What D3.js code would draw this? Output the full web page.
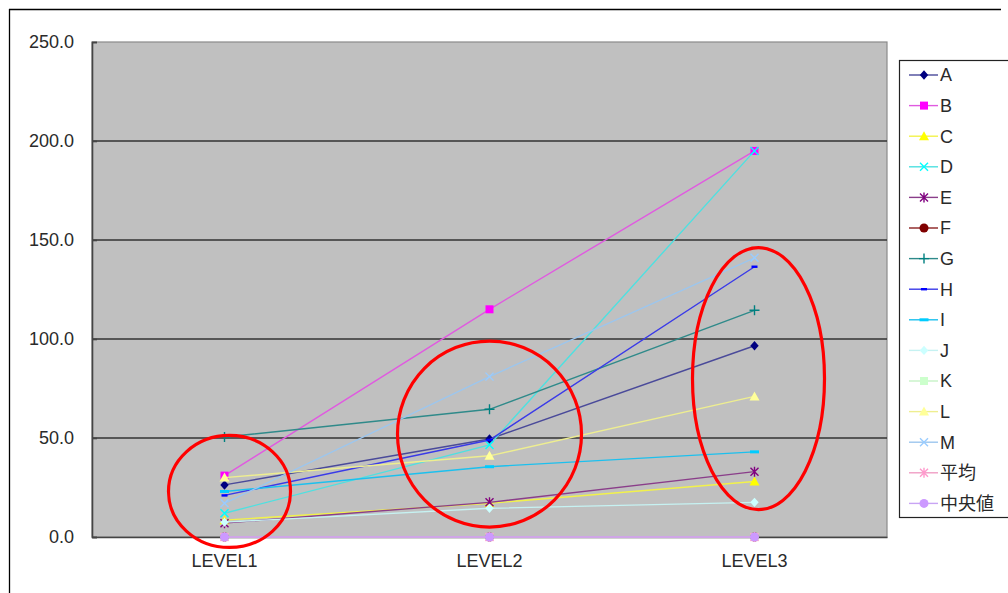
<!DOCTYPE html>
<html>
<head>
<meta charset="utf-8">
<script src="https://cdn.jsdelivr.net/npm/d3@7"></script>
<style>
  html, body { margin: 0; padding: 0; background: #fff; }
  svg { display: block; }
  text { font-family: "Liberation Sans", Arial, "Noto Sans CJK JP", sans-serif; fill: #2a2a2a; }
</style>
</head>
<body>
<svg id="chart" width="1008" height="593"></svg>
<script>
// Categories and tick labels
const categories = ["LEVEL1", "LEVEL2", "LEVEL3"];
const yTicks = [0, 50, 100, 150, 200, 250];

// Series values per level
const valuesA = [26.3, 49.5, 96.6];
const valuesB = [31.0, 115.0, 195.0];
const valuesC = [8.5, 17.0, 28.0];
const valuesD = [12.0, 46.5, 195.0];
const valuesE = [7.0, 17.5, 33.0];
const valuesF = [0, 0, 0];
const valuesG = [50.5, 64.5, 114.5];
const valuesH = [21.0, 49.0, 136.5];
const valuesI = [23.0, 35.5, 43.0];
const valuesJ = [7.5, 14.5, 17.5];
const valuesK = [0, 0, 0];
const valuesL = [30.0, 41.0, 71.0];
const valuesM = [17.0, 81.0, 141.0];
const valuesMean = [0, 0, 0];
const valuesMedian = [0, 0, 0];

const seriesNames = ["A", "B", "C", "D", "E", "F", "G", "H", "I", "J", "K", "L", "M", "平均", "中央値"];
const seriesValues = [valuesA, valuesB, valuesC, valuesD, valuesE, valuesF, valuesG, valuesH,
                      valuesI, valuesJ, valuesK, valuesL, valuesM, valuesMean, valuesMedian];

// Styling (classic office palette)
const colors = ["#000080", "#FF00FF", "#FFFF00", "#00FFFF", "#800080", "#800000", "#008080", "#0000FF",
                "#00CCFF", "#CCFFFF", "#CCFFCC", "#FFFF99", "#99CCFF", "#FF99CC", "#CC99FF"];
const lineColors = ["#4a4a9a", "#e05ae0", "#f2f24a", "#4fe0e0", "#8a3e8a", "#8a2020", "#2f8a8a", "#3a3ae8",
                    "#1cc0ee", "#c6f2f2", "#c6f2c6", "#eeee90", "#9cc6ee", "#f09ec4", "#c8a4f4"];
const markers = ["diamond", "square", "triangle", "x", "star", "circle", "plus", "shortdash",
                 "dash", "diamond", "square", "triangle", "x", "star", "circle"];

const series = seriesNames.map((name, i) => ({
  name, values: seriesValues[i], color: colors[i], line: lineColors[i], marker: markers[i]
}));

const svg = d3.select("#chart");

// Outer chart frame
svg.append("line").attr("x1", 9).attr("y1", 9.5).attr("x2", 1001).attr("y2", 9.5)
  .attr("stroke", "#000").attr("stroke-width", 1.3);
svg.append("line").attr("x1", 9.5).attr("y1", 9).attr("x2", 9.5).attr("y2", 593)
  .attr("stroke", "#000").attr("stroke-width", 1.3);

const plot = { left: 92, top: 42, right: 887, bottom: 537 };

const x = d3.scaleBand().domain(categories).range([plot.left, plot.right]);
const y = d3.scaleLinear().domain([0, 250]).range([plot.bottom, plot.top]);

// Plot area background
svg.append("rect")
  .attr("x", plot.left).attr("y", plot.top)
  .attr("width", plot.right - plot.left).attr("height", plot.bottom - plot.top)
  .attr("fill", "#C0C0C0").attr("stroke", "#8a8a8a").attr("stroke-width", 1.2);

// Horizontal gridlines
svg.append("g").selectAll("line").data(yTicks.filter(t => t > 0 && t < 250)).join("line")
  .attr("x1", plot.left).attr("x2", plot.right)
  .attr("y1", d => y(d)).attr("y2", d => y(d))
  .attr("stroke", "#333").attr("stroke-width", 1.6);

// Y axis
const yAxis = d3.axisLeft(y).tickValues(yTicks).tickFormat(d3.format(".1f")).tickSize(-5).tickPadding(18);
const gy = svg.append("g").attr("transform", `translate(${plot.left},0)`).call(yAxis);
gy.select(".domain").attr("stroke", "#444").attr("stroke-width", 1.6);
gy.selectAll(".tick line").attr("stroke", "#444").attr("stroke-width", 1.6);
gy.selectAll(".tick text").attr("font-size", 18).attr("fill", "#2a2a2a")
  .attr("font-family", "Liberation Sans, Arial, sans-serif");

// X axis
const xAxis = d3.axisBottom(x).tickSize(0).tickPadding(17);
const gx = svg.append("g").attr("transform", `translate(0,${plot.bottom})`).call(xAxis);
gx.select(".domain").attr("stroke", "#444").attr("stroke-width", 1.6);
gx.selectAll(".tick text").attr("font-size", 18).attr("fill", "#2a2a2a")
  .attr("font-family", "Liberation Sans, Arial, sans-serif");

// Marker drawing
function drawMarker(g, type, cx, cy, color) {
  const s = 4.2;
  switch (type) {
    case "diamond":
      g.append("path").attr("d", `M${cx},${cy - s - 0.5}L${cx + s},${cy}L${cx},${cy + s + 0.5}L${cx - s},${cy}Z`)
        .attr("fill", color);
      break;
    case "square":
      g.append("rect").attr("x", cx - 4).attr("y", cy - 4).attr("width", 8).attr("height", 8)
        .attr("fill", color);
      break;
    case "triangle":
      g.append("path").attr("d", `M${cx},${cy - 5}L${cx + 5},${cy + 4}L${cx - 5},${cy + 4}Z`)
        .attr("fill", color);
      break;
    case "x":
      g.append("path").attr("d", `M${cx - 4},${cy - 4}L${cx + 4},${cy + 4}M${cx - 4},${cy + 4}L${cx + 4},${cy - 4}`)
        .attr("stroke", color).attr("stroke-width", 1.4).attr("fill", "none");
      break;
    case "star":
      g.append("path").attr("d", `M${cx - 4},${cy - 4}L${cx + 4},${cy + 4}M${cx - 4},${cy + 4}L${cx + 4},${cy - 4}M${cx},${cy - 5}L${cx},${cy + 5}`)
        .attr("stroke", color).attr("stroke-width", 1.4).attr("fill", "none");
      break;
    case "circle":
      g.append("circle").attr("cx", cx).attr("cy", cy).attr("r", 4.5).attr("fill", color);
      break;
    case "plus":
      g.append("path").attr("d", `M${cx},${cy - 5}L${cx},${cy + 5}M${cx - 5},${cy}L${cx + 5},${cy}`)
        .attr("stroke", color).attr("stroke-width", 1.4).attr("fill", "none");
      break;
    case "shortdash":
      g.append("rect").attr("x", cx - 3).attr("y", cy - 1.2).attr("width", 6).attr("height", 2.4)
        .attr("fill", color);
      break;
    case "dash":
      g.append("rect").attr("x", cx - 4.5).attr("y", cy - 1.5).attr("width", 9).attr("height", 3)
        .attr("fill", color);
      break;
  }
}

const line = d3.line()
  .x((d, i) => x(categories[i]) + x.bandwidth() / 2)
  .y(d => y(d));

// Series lines and markers
const gSeries = svg.append("g");
series.forEach(s => {
  const g = gSeries.append("g");
  g.append("path").datum(s.values).attr("d", line)
    .attr("fill", "none").attr("stroke", s.line).attr("stroke-width", 1.4);
  s.values.forEach((v, i) => {
    drawMarker(g, s.marker, x(categories[i]) + x.bandwidth() / 2, y(v), s.color);
  });
});

// Highlight ellipses around each level
const highlights = [
  { level: "LEVEL1", dx: 5, value: 23, rx: 61, ry: 56 },
  { level: "LEVEL2", dx: 0, value: 52, rx: 92, ry: 93 },
  { level: "LEVEL3", dx: 4, value: 80, rx: 66, ry: 131 }
];
svg.append("g").selectAll("ellipse").data(highlights).join("ellipse")
  .attr("cx", d => x(d.level) + x.bandwidth() / 2 + d.dx)
  .attr("cy", d => y(d.value))
  .attr("rx", d => d.rx).attr("ry", d => d.ry)
  .attr("fill", "none").attr("stroke", "#FF0000").attr("stroke-width", 3.2);

// Legend
const legend = svg.append("g");
legend.append("rect").attr("x", 899.5).attr("y", 60.5).attr("width", 200).attr("height", 457)
  .attr("fill", "#fff").attr("stroke", "#222").attr("stroke-width", 1.2);
series.forEach((s, i) => {
  const ly = 75 + i * 30.6;
  legend.append("line").attr("x1", 909).attr("x2", 938).attr("y1", ly).attr("y2", ly)
    .attr("stroke", s.line).attr("stroke-width", 1.4);
  drawMarker(legend, s.marker, 924, ly, s.color);
  legend.append("text").attr("x", 940).attr("y", ly).attr("dy", "0.36em")
    .attr("font-size", 18).text(s.name);
});
</script>
</body>
</html>
